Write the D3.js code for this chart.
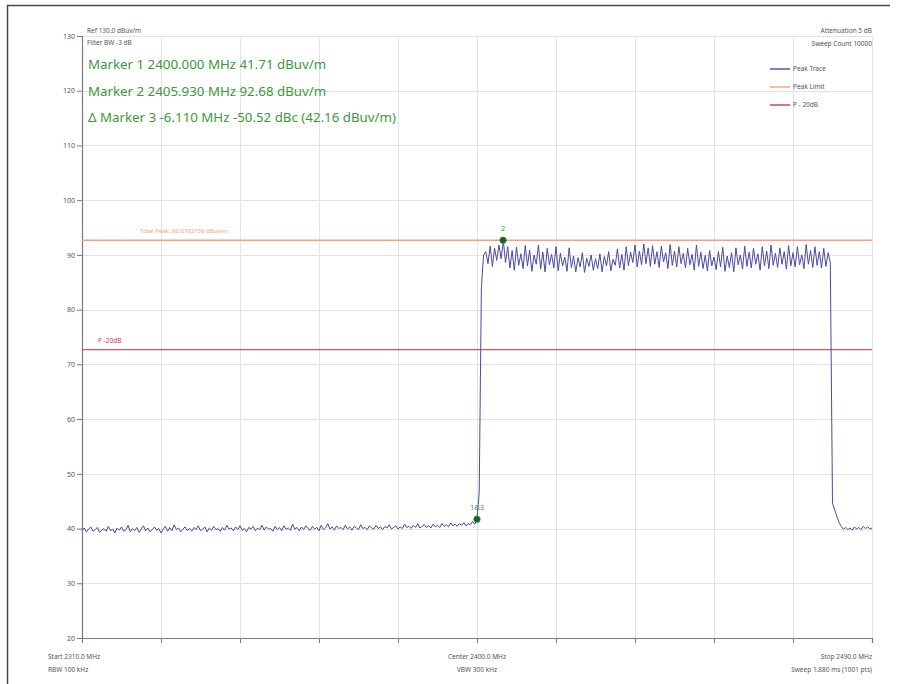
<!DOCTYPE html>
<html>
<head>
<meta charset="utf-8">
<script src="https://cdn.jsdelivr.net/npm/d3@7"></script>
<style>
  html, body { margin: 0; padding: 0; background: #fff; }
  svg { display: block; font-family: "Noto Sans", "Open Sans", sans-serif; }
</style>
</head>
<body>
<svg id="chart" width="904" height="684"></svg>
<script>
// Sweep definition
const startMHz = 2310;
const stopMHz = 2490;
const centerMHz = 2400;
const stepMHz = 0.5;

// Trace levels (dBuV/m), one per sweep point
const floorBelow = [
  39.6, 40.1, 39.4, 39.9, 40.3, 39.5, 39.8, 40.2, 39.3, 39.7,
  40.0, 39.5, 40.4, 39.6, 39.9, 39.2, 40.1, 39.7, 40.3, 39.5,
  39.8, 40.6, 39.4, 40.0, 39.6, 40.2, 39.3, 39.9, 40.5, 39.6,
  40.1, 39.4, 39.8, 40.3, 39.7, 40.0, 39.2, 39.9, 40.4, 39.5,
  40.2, 39.6, 40.7, 39.8, 40.1, 39.4, 39.9, 40.3, 39.6, 40.0,
  39.5, 40.2, 39.8, 40.5, 39.6, 39.9, 40.3, 39.4, 40.1, 39.7,
  40.4, 39.8, 40.0, 39.5, 40.2, 39.7, 40.6, 39.9, 40.1, 39.6,
  40.3, 39.8, 40.5, 39.7, 40.0, 39.4, 40.2, 39.9, 40.4, 39.6,
  40.1, 39.8, 40.6, 39.7, 40.3, 39.9, 40.0, 39.5, 40.4, 39.8,
  40.2, 39.6, 40.5, 39.9, 40.1, 39.7, 40.8, 39.9, 40.2, 39.6,
  40.3, 39.8, 40.5, 40.0, 39.7, 40.4, 39.9, 40.2, 39.6, 40.6,
  39.8, 40.1, 40.9, 39.9, 40.3, 39.7, 40.5, 40.0, 40.2, 39.8,
  40.6, 39.9, 40.3, 39.7, 40.4, 40.1, 39.8, 40.7, 40.0, 40.2,
  39.8, 40.5, 40.1, 39.9, 40.6, 40.0, 40.3, 39.8, 40.4, 40.1,
  40.7, 39.9, 40.2, 40.5, 39.9, 40.3, 40.0, 40.8, 40.2, 40.4,
  40.0, 40.6, 40.2, 40.9, 40.1, 40.4, 40.7, 40.2, 40.5, 40.1,
  40.8, 40.3, 40.6, 40.2, 40.9, 40.4, 40.7, 40.3, 41.0, 40.5,
  40.8, 40.4, 40.9, 40.6, 41.1, 40.5, 40.9, 40.7, 41.3, 40.8,
  41.71
];
const risingEdge = [46.5, 84.0, 90.0];
const bandLevels = [
  90.6, 88.4, 91.6, 87.9, 91.2, 89.0, 91.8, 89.3, 92.6, 88.6,
  91.5, 87.6, 90.8, 87.2, 91.4, 88.1, 90.2, 87.5, 91.7, 88.0,
  90.9, 87.0, 90.0, 88.3, 91.8, 87.4, 90.5, 86.9, 91.2, 88.2,
  90.1, 87.6, 91.5, 87.1, 90.3, 88.0, 89.6, 87.0, 91.3, 87.7,
  89.8, 86.9, 89.5, 87.8, 90.4, 86.8, 89.4, 87.9, 90.0, 87.2,
  89.3, 87.5, 90.2, 86.9, 89.7, 88.0, 90.6, 87.1, 89.2, 88.1,
  91.1, 87.6, 90.1, 87.2, 91.5, 88.0, 90.5, 88.6, 91.8, 87.8,
  90.7, 88.2, 92.0, 88.4, 91.3, 87.9, 91.7, 88.3, 90.6, 87.7,
  91.6, 88.7, 90.4, 87.5, 91.9, 88.1, 90.7, 87.8, 91.5, 88.4,
  90.3, 87.6, 91.2, 88.2, 90.1, 87.2, 91.8, 87.9, 90.5, 87.5,
  89.9, 87.1, 90.8, 88.0, 89.6, 87.3, 90.6, 87.8, 91.4, 87.0,
  89.8, 87.7, 90.4, 86.9, 91.3, 88.2, 90.0, 87.4, 91.6, 87.9,
  90.5, 87.6, 91.2, 88.3, 90.2, 87.2, 91.5, 88.0, 90.7, 87.5,
  91.8, 88.1, 90.3, 87.7, 91.3, 88.3, 90.6, 87.4, 91.7, 88.0,
  90.4, 87.8, 91.5, 88.2, 90.0, 87.5, 91.9, 88.3, 90.8, 87.7,
  91.5, 88.1, 90.6, 87.6, 91.2, 87.9, 90.4, 88.6
];
const floorAbove = [
  44.6, 43.4, 42.2, 41.1, 40.4, 39.9, 40.2, 39.8, 40.1, 39.7,
  40.3, 39.9, 40.2, 39.8, 40.4, 40.0, 40.3, 39.9, 40.1
];

// Display lines
const peakLimit = 92.68;
const p20Line = 72.68;

// Markers
const markerFreqs = [2400.000, 2405.930, 2399.820];
const markerLevels = [41.71, 92.68, 42.16];
const markerTags = ["1&3", "2"];

// Axis ticks
const yTicks = [20, 30, 40, 50, 60, 70, 80, 90, 100, 110, 120, 130];
const xTickCount = 10;

// Texts
const markerLines = [
  "Marker 1 2400.000 MHz 41.71 dBuv/m",
  "Marker 2 2405.930 MHz 92.68 dBuv/m",
  "\u0394 Marker 3 -6.110 MHz -50.52 dBc (42.16 dBuv/m)"
];
const headerLeft = ["Ref 130.0 dBuv/m", "Filter BW -3 dB"];
const headerRight = ["Attenuation 5 dB", "Sweep Count 10000"];
const legendNames = ["Peak Trace", "Peak Limit", "P - 20dB"];
const footLeft = ["Start 2310.0 MHz", "RBW 100 kHz"];
const footCenter = ["Center 2400.0 MHz", "VBW 300 kHz"];
const footRight = ["Stop 2490.0 MHz", "Sweep 1.880 ms (1001 pts)"];
const limitLabel = "Total Peak: 92.6792736 dBuv/m";
const p20Label = "P -20dB";

const traceLevels = floorBelow.concat(risingEdge, bandLevels, floorAbove);
const trace = traceLevels.map((v, i) => ({ f: startMHz + i * stepMHz, v }));

const colors = {
  trace: "#4a4aa6",
  limit: "#f2a184",
  p20: "#d3354a",
  marker: "#3a9a3a",
  markerDot: "#17602a",
  grid: "#e4e4e4",
  axis: "#7a7a7a",
  text: "#555"
};

const svg = d3.select("#chart");
const x = d3.scaleLinear().domain([startMHz, stopMHz]).range([82, 872]);
const y = d3.scaleLinear().domain([20, 130]).range([638, 36]);
const xTickVals = d3.range(xTickCount + 1).map(i => startMHz + i * (stopMHz - startMHz) / xTickCount);

// Outer frame
svg.append("path")
  .attr("d", "M7.5,684 L7.5,5.5 L890,5.5")
  .attr("fill", "none").attr("stroke", "#4a4a4a").attr("stroke-width", 1.5);

// Grid
const grid = svg.append("g");
grid.selectAll("line.h").data(yTicks.filter(t => t > 20)).join("line")
  .attr("x1", x(startMHz)).attr("x2", x(stopMHz))
  .attr("y1", d => Math.round(y(d)) + 0.5).attr("y2", d => Math.round(y(d)) + 0.5)
  .attr("stroke", colors.grid);
grid.selectAll("line.v").data(xTickVals.slice(1)).join("line")
  .attr("x1", d => Math.round(x(d)) + 0.5).attr("x2", d => Math.round(x(d)) + 0.5)
  .attr("y1", y(130)).attr("y2", y(20))
  .attr("stroke", colors.grid);

// Axes
const yAxis = svg.append("g").attr("transform", `translate(${x(startMHz)},0)`)
  .call(d3.axisLeft(y).tickValues(yTicks).tickSize(5).tickPadding(2).tickFormat(d3.format("d")));
const xAxis = svg.append("g").attr("transform", `translate(0,${y(20)})`)
  .call(d3.axisBottom(x).tickValues(xTickVals).tickSize(5).tickFormat(""));
[yAxis, xAxis].forEach(g => {
  g.select(".domain").attr("stroke", colors.axis).attr("stroke-width", 1.2);
  g.selectAll(".tick line").attr("stroke", colors.axis);
  g.selectAll(".tick text").attr("fill", colors.text).attr("font-size", 7).attr("font-family", "Noto Sans, sans-serif");
});

// Limit lines
svg.append("line")
  .attr("x1", x(startMHz)).attr("x2", x(stopMHz))
  .attr("y1", y(peakLimit)).attr("y2", y(peakLimit))
  .attr("stroke", colors.limit).attr("stroke-width", 1.4);
svg.append("text").attr("x", 140).attr("y", y(peakLimit) - 7)
  .attr("font-size", 6).attr("fill", colors.limit).text(limitLabel);
svg.append("line")
  .attr("x1", x(startMHz)).attr("x2", x(stopMHz))
  .attr("y1", y(p20Line)).attr("y2", y(p20Line))
  .attr("stroke", colors.p20).attr("stroke-width", 1.2).attr("opacity", 0.85);
svg.append("text").attr("x", 98).attr("y", y(p20Line) - 7)
  .attr("font-size", 6.5).attr("fill", colors.p20).text(p20Label);

// Trace
svg.append("path").datum(trace)
  .attr("fill", "none").attr("stroke", colors.trace).attr("stroke-width", 1)
  .attr("stroke-linejoin", "round")
  .attr("d", d3.line().x(d => x(d.f)).y(d => y(d.v)));

// Markers
const shown = [0, 1];
svg.selectAll("circle.mk").data(shown).join("circle")
  .attr("cx", i => x(markerFreqs[i])).attr("cy", i => y(markerLevels[i]))
  .attr("r", 3.2).attr("fill", colors.markerDot).attr("stroke", "#2f8a3f").attr("stroke-width", 0.8);
svg.selectAll("text.mk").data(shown).join("text")
  .attr("x", i => x(markerFreqs[i])).attr("y", i => y(markerLevels[i]) - 9)
  .attr("text-anchor", "middle").attr("font-size", 7.5).attr("fill", colors.marker)
  .text((i, k) => markerTags[k]);

// Header texts
svg.selectAll("text.hl").data(headerLeft).join("text")
  .attr("x", 87).attr("y", (d, i) => 33 + i * 12)
  .attr("font-size", 6.5).attr("fill", colors.text).text(d => d);
svg.selectAll("text.hr").data(headerRight).join("text")
  .attr("x", 872).attr("y", (d, i) => 33 + i * 13)
  .attr("text-anchor", "end").attr("font-size", 6.5).attr("fill", colors.text).text(d => d);

// Marker readouts
svg.selectAll("text.mr").data(markerLines).join("text")
  .attr("x", 88).attr("y", (d, i) => 69 + i * 26.5)
  .attr("font-size", 13.3).attr("fill", colors.marker).text(d => d);

// Legend
const legendColors = [colors.trace, colors.limit, colors.p20];
const lg = svg.append("g");
legendNames.forEach((n, i) => {
  const ly = 69 + i * 18;
  lg.append("line").attr("x1", 770).attr("x2", 790).attr("y1", ly).attr("y2", ly)
    .attr("stroke", legendColors[i]).attr("stroke-width", 1.4);
  lg.append("text").attr("x", 793).attr("y", ly + 2.3)
    .attr("font-size", 6.5).attr("fill", colors.text).text(n);
});

// Footer texts
function foot(lines, xp, anchor) {
  svg.append("g").selectAll("text").data(lines).join("text")
    .attr("x", xp).attr("y", (d, i) => 659 + i * 13)
    .attr("text-anchor", anchor).attr("font-size", 6.5).attr("fill", colors.text).text(d => d);
}
foot(footLeft, 48, "start");
foot(footCenter, x(centerMHz), "middle");
foot(footRight, x(stopMHz), "end");
</script>
</body>
</html>
